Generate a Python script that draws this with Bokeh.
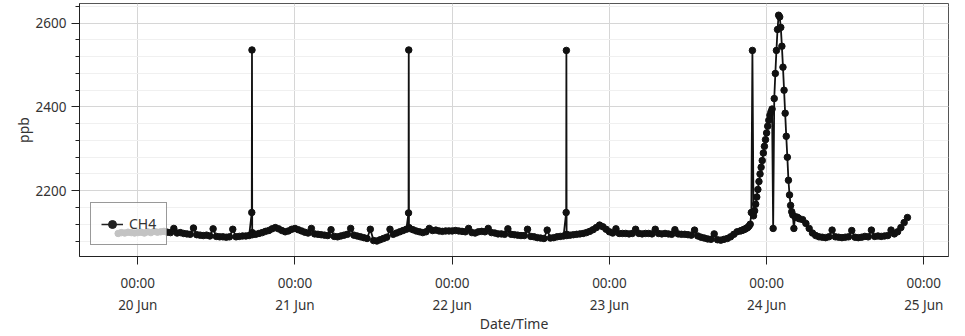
import pandas as pd
from bokeh.plotting import figure
from bokeh.models import (Range1d, FixedTicker, SingleIntervalTicker, DatetimeTickFormatter,
                          ColumnDataSource, Legend, LegendItem)
from bokeh.embed import file_html
from bokeh.resources import INLINE

# ---------------- data ----------------
series_name = "CH4"
x_label = "Date/Time"
y_label = "ppb"

# 30-minute samples, 19 Jun 21:00 -> 23 Jun 19:30
base_a_start = "2021-06-19 21:00"
ch4_a = [
    # 19 Jun 21:00 - 23:30
    2098, 2100, 2099, 2101, 2100, 2099,
    # 20 Jun
    2100, 2101, 2099, 2102, 2100, 2103, 2101, 2102, 2103, 2101, 2100, 2110,
    2099, 2100, 2098, 2097, 2096, 2111, 2095, 2094, 2093, 2094, 2092, 2109,
    2091, 2090, 2090, 2089, 2090, 2108, 2090, 2091, 2092, 2092, 2093, 2095,
    2096, 2098, 2100, 2103, 2105, 2109, 2112, 2109, 2105, 2102, 2104, 2108,
    # 21 Jun
    2110, 2107, 2104, 2101, 2099, 2110, 2097, 2096, 2095, 2094, 2093, 2107,
    2091, 2090, 2092, 2094, 2096, 2110, 2094, 2092, 2090, 2088, 2086, 2108,
    2081, 2080, 2083, 2086, 2089, 2108, 2096, 2099, 2102, 2105, 2108, 2110,
    2107, 2104, 2102, 2100, 2102, 2110, 2105, 2106, 2104, 2103, 2104, 2104,
    # 22 Jun
    2104, 2105, 2104, 2103, 2102, 2110, 2100, 2099, 2102, 2103, 2102, 2110,
    2100, 2099, 2097, 2097, 2096, 2109, 2096, 2095, 2094, 2093, 2093, 2108,
    2091, 2090, 2088, 2087, 2086, 2106, 2087, 2088, 2090, 2091, 2092, 2093,
    2094, 2095, 2096, 2097, 2098, 2100, 2103, 2107, 2112, 2118, 2114, 2108,
    # 23 Jun 00:00 - 19:30
    2102, 2099, 2109, 2098, 2098, 2098, 2097, 2098, 2108, 2098, 2097, 2098,
    2098, 2097, 2108, 2098, 2097, 2098, 2097, 2096, 2107, 2097, 2096, 2096,
    2095, 2094, 2106, 2092, 2089, 2087, 2085, 2084, 2097, 2083, 2082, 2084,
    2086, 2090, 2096, 2102,
]

# 10-minute samples, 23 Jun 20:00 -> 24 Jun 05:00 (event)
peak_start = "2021-06-23 20:00"
ch4_peak = [
    2104, 2105, 2106, 2107, 2108, 2110, 2111, 2113, 2116, 2120,
    2148, 2535,
    2140, 2152, 2168, 2185, 2203, 2222, 2240, 2256, 2272, 2290, 2306, 2322,
    2338, 2354, 2368, 2380, 2388, 2395,
    2110, 2420, 2480, 2535, 2585, 2619,
    2615, 2590, 2545, 2495, 2440, 2385,
    2330, 2280, 2225, 2190, 2165, 2150,
    2142, 2110, 2138, 2136, 2137, 2135,
    2133,
]

# 30-minute samples, 24 Jun 05:30 -> 21:30
base_c_start = "2021-06-24 05:30"
ch4_c = [
    2131, 2122, 2110, 2099, 2093, 2090, 2089, 2088, 2090, 2106, 2090,
    2089, 2088, 2089, 2090, 2105, 2089, 2088, 2089, 2091, 2090, 2106,
    2091, 2092, 2091, 2092, 2093, 2106, 2097, 2102, 2112, 2124, 2136,
]

# short daily spikes
spike_times = [
    "2021-06-20 17:24", "2021-06-20 17:26", "2021-06-20 17:28",
    "2021-06-21 17:20", "2021-06-21 17:22", "2021-06-21 17:24",
    "2021-06-22 17:24", "2021-06-22 17:26", "2021-06-22 17:28",
]
spike_values = [
    2148, 2536, 2100,
    2147, 2536, 2112,
    2148, 2535, 2096,
]

day_ticks = ["2021-06-20", "2021-06-21", "2021-06-22", "2021-06-23", "2021-06-24", "2021-06-25"]

# ---------------- assemble ----------------
parts = [
    pd.DataFrame({"t": pd.date_range(base_a_start, periods=len(ch4_a), freq="30min"), "v": ch4_a}),
    pd.DataFrame({"t": pd.date_range(peak_start, periods=len(ch4_peak), freq="10min"), "v": ch4_peak}),
    pd.DataFrame({"t": pd.date_range(base_c_start, periods=len(ch4_c), freq="30min"), "v": ch4_c}),
    pd.DataFrame({"t": pd.to_datetime(spike_times), "v": spike_values}),
]
df = pd.concat(parts).sort_values("t").reset_index(drop=True)
src = ColumnDataSource(df)

FONT = "Noto Sans"
TXT = "#333333"

x_start = pd.Timestamp(day_ticks[0]) - pd.Timedelta(hours=8.9)
x_end = pd.Timestamp(day_ticks[-1]) + pd.Timedelta(hours=3.77)

p = figure(width=965, height=336, x_axis_type="datetime",
           output_backend="svg", toolbar_location=None,
           x_range=Range1d(x_start, x_end), y_range=Range1d(2043, 2647),
           min_border_left=79, min_border_right=17, min_border_top=3, min_border_bottom=79)
p.background_fill_color = "white"
p.border_fill_color = "white"
p.outline_line_color = "#555555"
p.outline_line_width = 1

p.line("t", "v", source=src, line_color="#111111", line_width=1.8)
p.scatter("t", "v", source=src, marker="circle", size=6.5, fill_color="#111111",
          line_color="#111111")

# legend key renderers (not drawn in the plot: NaN only), smaller marker as in the original key
key_src = ColumnDataSource(dict(t=[float("nan")], v=[float("nan")]))
lg_line = p.line("t", "v", source=key_src, line_color="#222222", line_width=1.5)
lg_dot = p.scatter("t", "v", source=key_src, marker="circle", size=3,
                   fill_color="#222222", line_color="#222222")
lg = Legend(items=[LegendItem(label=series_name, renderers=[lg_line, lg_dot])])
p.add_layout(lg, "center")

# x axis
xa = p.xaxis[0]
xa.ticker = FixedTicker(ticks=[pd.Timestamp(d).value / 1e6 for d in day_ticks])
fmt = "%H:%M\n%d %b"
xa.formatter = DatetimeTickFormatter(days=fmt, hours=fmt, months=fmt, hourmin=fmt,
                                     minutes=fmt, years=fmt)
xa.axis_label = x_label

# y axis
ya = p.yaxis[0]
ya.ticker = SingleIntervalTicker(interval=200, num_minor_ticks=5)
ya.axis_label = y_label

for ax in (xa, ya):
    ax.axis_line_color = "#222222"
    ax.major_tick_line_color = "#222222"
    ax.minor_tick_line_color = "#222222"
    ax.major_tick_in = 0
    ax.major_tick_out = 8
    ax.minor_tick_in = 0
    ax.minor_tick_out = 4
    ax.major_label_text_font = FONT
    ax.major_label_text_font_size = "13.5px"
    ax.major_label_text_color = TXT
    ax.axis_label_text_font = FONT
    ax.axis_label_text_font_size = "14px"
    ax.axis_label_text_font_style = "normal"
    ax.axis_label_text_color = TXT
xa.minor_tick_out = 0
xa.major_label_text_line_height = 1.25
xa.major_label_standoff = 9
xa.axis_label_standoff = -3
ya.major_label_standoff = 5
ya.axis_label_standoff = 0

p.xgrid.grid_line_color = "#d6d6d6"
p.ygrid.grid_line_color = "#d6d6d6"
p.ygrid.minor_grid_line_color = "#f0f0f0"

lg.location = (11, 11)
lg.border_line_color = "#333333"
lg.border_line_width = 1.5
lg.background_fill_color = "white"
lg.background_fill_alpha = 0.75
lg.label_text_font = FONT
lg.label_text_font_size = "14px"
lg.label_text_color = TXT
lg.padding = 10
lg.margin = 0
lg.glyph_width = 22
lg.glyph_height = 20
lg.label_height = 21
lg.label_standoff = 6

open("out.html", "w").write(file_html(p, INLINE))
